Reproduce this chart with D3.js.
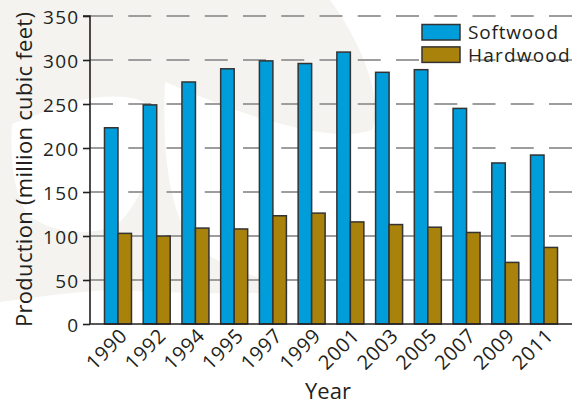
<!DOCTYPE html>
<html>
<head>
<meta charset="utf-8">
<script src="https://cdn.jsdelivr.net/npm/d3@7"></script>
<style>
  html, body { margin: 0; padding: 0; background: #ffffff; }
  svg { display: block; }
  text { font-family: "Open Sans", "Noto Sans", sans-serif; fill: #231f20; }
</style>
</head>
<body>
<svg id="chart" width="580" height="402"></svg>
<script>
const years = ["1990","1992","1994","1995","1997","1999","2001","2003","2005","2007","2009","2011"];
const softwood = [223, 249, 275, 290, 299, 296, 309, 286, 289, 245, 183, 192];
const hardwood = [103, 100, 109, 108, 123, 126, 116, 113, 110, 104, 70, 87];
const seriesNames = ["Softwood", "Hardwood"];
const seriesColors = ["#009ddb", "#a8820a"];
const yTicks = [0, 50, 100, 150, 200, 250, 300, 350];

(function () {
const svg = d3.select("#chart");
const mL = 90, mR = 572, mT = 16, mB = 324;
const FONT = "'Open Sans', 'Noto Sans', sans-serif";

// faint background watermark shapes
svg.append("path")
  .attr("d", "M0,0 H330 C360,40 385,100 372,130 C345,140 300,130 260,118 C220,106 190,92 165,82 C162,150 168,220 200,250 C230,270 270,280 290,292 C220,295 160,292 110,290 C70,292 30,298 0,302 Z")
  .attr("fill", "#f4f3ef");
svg.append("path")
  .attr("d", "M12,124 C40,114 70,100 100,97 C125,95 145,98 152,110 C155,150 150,190 120,222 C90,240 50,232 28,215 C14,195 10,160 12,124 Z")
  .attr("fill", "#ffffff");

const y = d3.scaleLinear().domain([0, 350]).range([mB, mT]);
const x0 = d3.scaleBand().domain(years).range([mL, mR]).paddingInner(0.303).paddingOuter(0.374);
const x1 = d3.scaleBand().domain(seriesNames).range([0, x0.bandwidth()]);

// grid lines
svg.append("g").selectAll("line")
  .data(yTicks.filter(d => d > 0))
  .join("line")
  .attr("x1", mL).attr("x2", mR)
  .attr("y1", d => y(d)).attr("y2", d => y(d))
  .attr("stroke", "#9d9d9d")
  .attr("stroke-width", 1.8)
  .attr("stroke-dasharray", "23 15.25");

// bars
const data = years.map((yr, i) => ({ year: yr, values: [softwood[i], hardwood[i]] }));
const groups = svg.append("g").selectAll("g")
  .data(data).join("g")
  .attr("transform", d => `translate(${x0(d.year)},0)`);
groups.selectAll("rect")
  .data(d => d.values.map((v, j) => ({ key: seriesNames[j], v, j })))
  .join("rect")
  .attr("x", d => x1(d.key))
  .attr("y", d => y(d.v))
  .attr("width", x1.bandwidth())
  .attr("height", d => y(0) - y(d.v))
  .attr("fill", d => seriesColors[d.j])
  .attr("stroke", "#333")
  .attr("stroke-width", 1.5);

// y axis
const yAxis = d3.axisLeft(y).tickValues(yTicks).tickSize(7).tickPadding(3.5);
const gy = svg.append("g").attr("transform", `translate(${mL},0)`).call(yAxis);
gy.select(".domain").attr("stroke", "#231f20").attr("stroke-width", 1.6).attr("d", `M-7,${mT}H0V${mB}`);
gy.selectAll(".tick line").attr("stroke", "#231f20").attr("stroke-width", 1.6);
gy.selectAll(".tick text")
  .attr("font-size", 19).attr("font-family", FONT).attr("fill", "#231f20")
  .attr("letter-spacing", "1.3px")
  .attr("dy", "0.42em");

// x axis
const xAxis = d3.axisBottom(x0).tickSize(0).tickPadding(0);
const gx = svg.append("g").attr("transform", `translate(0,${mB})`).call(xAxis);
gx.select(".domain").attr("stroke", "#231f20").attr("stroke-width", 1.6).attr("d", `M${mL},0H${mR}`);
gx.selectAll(".tick text")
  .attr("font-size", 20).attr("font-family", FONT).attr("fill", "#231f20")
  .attr("letter-spacing", "0.6px")
  .attr("text-anchor", "end")
  .attr("dy", null)
  .attr("y", 0)
  .attr("transform", "translate(10.5,13) rotate(-45)");

// axis titles
svg.append("text")
  .attr("transform", `translate(32,169.5) rotate(-90)`)
  .attr("text-anchor", "middle")
  .attr("font-size", 22)
  .attr("textLength", 315)
  .attr("lengthAdjust", "spacing")
  .text("Production (million cubic feet)");
svg.append("text")
  .attr("x", 328).attr("y", 399)
  .attr("text-anchor", "middle")
  .attr("font-size", 22)
  .text("Year");

// legend
const legendWidths = [90, 101.5];
const legend = svg.append("g").attr("transform", "translate(422,24.5)");
seriesNames.forEach((name, i) => {
  legend.append("rect")
    .attr("x", 0).attr("y", i * 22.4)
    .attr("width", 38).attr("height", 15.5)
    .attr("fill", seriesColors[i])
    .attr("stroke", "#333").attr("stroke-width", 1.5);
  legend.append("text")
    .attr("x", 46).attr("y", i * 22.4 + 14.8)
    .attr("font-size", 19)
    .attr("textLength", legendWidths[i])
    .attr("lengthAdjust", "spacing")
    .text(name);
});
})();
</script>
</body>
</html>
